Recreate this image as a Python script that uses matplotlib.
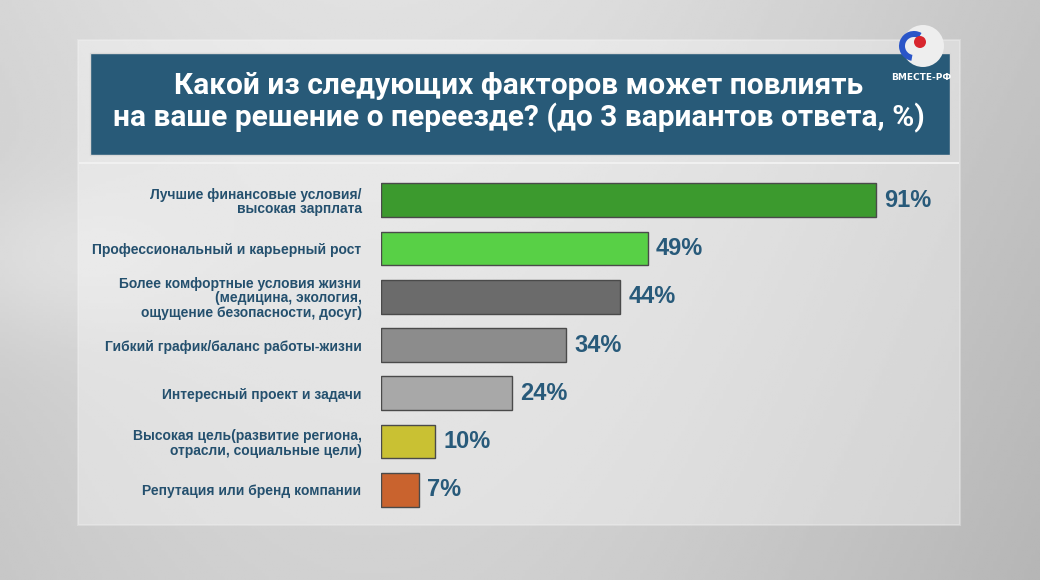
import matplotlib.pyplot as plt
import numpy as np
from matplotlib.patches import Rectangle, Circle, Wedge

# survey data
categories = [
    'Лучшие финансовые условия/\nвысокая зарплата',
    'Профессиональный и карьерный рост',
    'Более комфортные условия жизни\n(медицина, экология,\nощущение безопасности, досуг)',
    'Гибкий график/баланс работы-жизни',
    'Интересный проект и задачи',
    'Высокая цель(развитие региона,\nотрасли, социальные цели)',
    'Репутация или бренд компании',
]
values = [91, 49, 44, 34, 24, 10, 7]
bar_colors = ['#3c9a2e', '#58d046', '#6b6b6b', '#8c8c8c', '#a8a8a8', '#c9c133', '#c9632e']
title_lines = ['Какой из следующих факторов может повлиять',
               'на ваше решение о переезде? (до 3 вариантов ответа, %)']

plt.rcParams['font.family'] = ['Liberation Sans', 'DejaVu Sans']
W, H = 1040, 580
fig = plt.figure(figsize=(W / 100, H / 100), dpi=100)

# background (studio-like grey gradient)
bg = fig.add_axes([0, 0, 1, 1])
yy, xx = np.mgrid[0:1:200j, 0:1:300j]
grad = 0.80 + 0.08 * np.sin(xx * 3.0 + 0.5) - 0.06 * yy + 0.05 * np.exp(-((xx - 0.05) ** 2 + (yy - 0.45) ** 2) / 0.02)
bg.imshow(grad, cmap='gray', vmin=0, vmax=1, extent=[0, W, H, 0], aspect='auto')
bg.set_xlim(0, W)
bg.set_ylim(H, 0)
bg.axis('off')

# outer frame
bg.add_patch(Rectangle((78, 40), 882, 485, facecolor='white', alpha=0.35,
                       edgecolor='#f2f2f2', lw=1.5))
# title box
bg.add_patch(Rectangle((90, 53), 860, 102, facecolor='#285a78', edgecolor='#d8d8d8', lw=1))
title_font = ['Liberation Sans Narrow', 'Roboto', 'DejaVu Sans']
for ty, line in zip([86, 118], title_lines):
    bg.text(519, ty, line, color='white', fontsize=21.5, fontweight='bold',
            ha='center', va='center', family=title_font)
bg.plot([80, 958], [163, 163], color='#f0f0f0', lw=1.5)

# logo
bg.add_patch(Circle((923, 46), 21, facecolor='#eeeeee', edgecolor='none'))
bg.add_patch(Wedge((914, 46), 15, 100, 300, width=6, facecolor='#2a55c8'))
bg.add_patch(Circle((920, 42), 6, facecolor='#d8262e'))
bg.text(921, 77, 'ВМЕСТЕ-РФ', color='white', fontsize=6.5, fontweight='bold',
        ha='center', va='center', family=['Liberation Sans Narrow', 'DejaVu Sans'])

# bar chart
ax = fig.add_axes([381 / W, 1 - 514 / H, 544 / W, 338 / H])
ax.patch.set_alpha(0)
y = np.arange(len(values))
bars = ax.barh(y, values, height=0.7, color=bar_colors, edgecolor='#4a4a4a', lw=1)
ax.set_xlim(0, 100)
ax.set_ylim(len(values) - 0.5, -0.5)
for s in ax.spines.values():
    s.set_visible(False)
ax.set_xticks([])
ax.set_yticks(y)
ax.set_yticklabels(categories, fontsize=10, fontweight='bold', color='#24506e', linespacing=1.05)
for lab in ax.get_yticklabels():
    lab.set_multialignment('right')
ax.tick_params(axis='y', length=0, pad=14)

for yi, v in zip(y, values):
    ax.annotate(f'{v}%', (v, yi), xytext=(6, 0), textcoords='offset points',
                va='center', ha='left', fontsize=17, fontweight='bold', color='#285a7a')

fig.savefig('out.png', dpi=100)
